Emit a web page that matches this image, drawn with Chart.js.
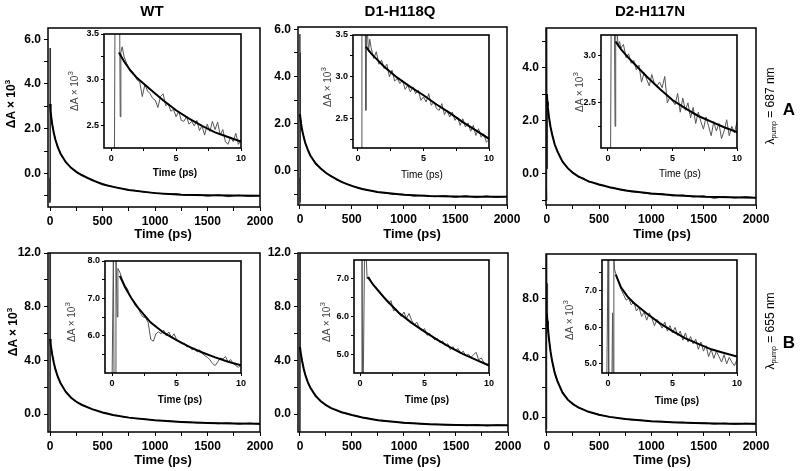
<!DOCTYPE html>
<html><head><meta charset="utf-8">
<script src="https://cdn.jsdelivr.net/npm/chart.js@4/dist/chart.umd.min.js"></script>
<style>
html,body{margin:0;padding:0;background:#fff;}
body{width:800px;height:471px;overflow:hidden;position:relative;font-family:"Liberation Sans",Arial,sans-serif;color:#000;}
canvas{position:absolute;left:0;top:0;}
.t{position:absolute;white-space:nowrap;transform:translate(-50%,-50%);line-height:1;}
.r{transform:translate(-50%,-50%) rotate(-90deg);}
.b{font-weight:bold;}
sub{font-size:7px;vertical-align:-2px;}
sup{font-size:8px;vertical-align:5px;}
</style></head>
<body>
<script>
// ---------------- DATA ----------------
const columnTitles = ['WT', 'D1-H118Q', 'D2-H117N'];

// main panels: time axis (ps)
const mainXTicks = [0, 500, 1000, 1500, 2000];
const mainXMinor = [250, 750, 1250, 1750];
const mainTime = [-4,-2,0,2,4,6,10,20,35,50,75,100,130,160,200,250,300,350,400,450,500,550,600,650,700,750,800,900,1000,1100,1200,1300,1400,1500,1600,1700,1800,1900,2000];
const mainSignal_WT_A = [-0.2,-1.3,5.6,-1.2,3.3,2.75,2.6,2.18,1.85,1.5,1.18,0.85,0.66,0.42,0.27,0.05,-0.05,-0.2,-0.26,-0.4,-0.45,-0.55,-0.58,-0.66,-0.68,-0.76,-0.75,-0.84,-0.86,-0.93,-0.9,-0.98,-0.94,-1.02,-0.95,-1.04,-0.97,-1.03,-0.99];
const mainSignal_D1_A = [-0.3,-1.4,5.8,-1.3,5.0,2.3,2.05,1.72,1.48,1.17,0.93,0.62,0.48,0.24,0.13,-0.1,-0.2,-0.38,-0.45,-0.57,-0.62,-0.72,-0.75,-0.83,-0.84,-0.92,-0.93,-1.0,-0.99,-1.08,-1.04,-1.1,-1.05,-1.13,-1.05,-1.14,-1.06,-1.13,-1.08];
const mainSignal_D2_A = [-0.5,-1.0,5.5,0.2,3.0,2.85,2.45,2.2,1.75,1.53,1.1,0.9,0.6,0.42,0.2,0.07,-0.12,-0.15,-0.3,-0.32,-0.42,-0.43,-0.52,-0.53,-0.6,-0.6,-0.67,-0.7,-0.76,-0.74,-0.83,-0.79,-0.87,-0.82,-0.92,-0.86,-0.91,-0.85,-0.9];
const mainSignal_WT_B = [-1.3,12.5,-1.3,12.5,5.7,5.2,4.9,4.5,3.8,3.38,2.7,2.33,1.9,1.6,1.2,0.95,0.68,0.55,0.35,0.27,0.1,0.06,-0.1,-0.12,-0.22,-0.24,-0.33,-0.36,-0.48,-0.47,-0.56,-0.57,-0.65,-0.62,-0.72,-0.64,-0.75,-0.66,-0.76];
const mainSignal_D1_B = [-1.3,12.5,-1.3,12.5,4.8,4.55,4.4,4.0,3.4,2.97,2.36,2.0,1.6,1.32,0.95,0.7,0.43,0.3,0.12,0.06,-0.09,-0.14,-0.27,-0.3,-0.4,-0.44,-0.52,-0.57,-0.67,-0.68,-0.76,-0.74,-0.81,-0.78,-0.86,-0.77,-0.88,-0.79,-0.86];
const mainSignal_D2_B = [-0.8,11.5,6.2,9.0,6.8,6.6,6.0,5.35,4.4,3.85,2.95,2.5,1.98,1.6,1.15,0.92,0.63,0.52,0.33,0.27,0.13,0.1,0.0,-0.02,-0.1,-0.1,-0.18,-0.2,-0.3,-0.28,-0.37,-0.34,-0.42,-0.38,-0.47,-0.4,-0.48,-0.41,-0.47];

const mainFitTime = [0,5,10,20,35,50,75,100,150,200,250,300,400,500,600,750,1000,1250,1500,1750,2000];
const mainFit_WT_A = [3.1,2.8,2.55,2.2,1.82,1.52,1.15,0.88,0.5,0.25,0.07,-0.07,-0.3,-0.48,-0.6,-0.74,-0.88,-0.95,-0.98,-0.99,-1.0];
const mainFit_D1_A = [2.4,2.2,2.02,1.75,1.45,1.2,0.9,0.65,0.32,0.1,-0.08,-0.23,-0.47,-0.64,-0.77,-0.9,-1.02,-1.07,-1.09,-1.1,-1.1];
const mainFit_D2_A = [3.0,2.72,2.5,2.15,1.78,1.5,1.12,0.86,0.46,0.22,0.04,-0.09,-0.28,-0.4,-0.5,-0.62,-0.74,-0.81,-0.86,-0.88,-0.9];
const mainFit_WT_B = [5.6,5.25,4.95,4.45,3.85,3.35,2.75,2.3,1.65,1.22,0.92,0.7,0.37,0.12,-0.07,-0.26,-0.46,-0.58,-0.66,-0.7,-0.72];
const mainFit_D1_B = [5.0,4.7,4.42,3.98,3.42,2.95,2.38,1.97,1.36,0.96,0.67,0.45,0.14,-0.07,-0.25,-0.45,-0.65,-0.75,-0.8,-0.82,-0.83];
const mainFit_D2_B = [7.0,6.5,6.05,5.3,4.45,3.8,3.0,2.45,1.65,1.18,0.88,0.66,0.36,0.16,0.02,-0.12,-0.28,-0.36,-0.41,-0.44,-0.45];

// main y ticks
const yTicks_A_WT = [0, 2, 4, 6],  yMinor_A_WT = [-1, 1, 3, 5];
const yTicks_A_D1 = [0, 2, 4, 6],  yMinor_A_D1 = [-1, 1, 3, 5];
const yTicks_A_D2 = [0, 2, 4],     yMinor_A_D2 = [-1, 1, 3, 5];
const yTicks_B_WT = [0, 4, 8, 12], yMinor_B_WT = [2, 6, 10];
const yTicks_B_D1 = [0, 4, 8, 12], yMinor_B_D1 = [2, 6, 10];
const yTicks_B_D2 = [0, 4, 8],     yMinor_B_D2 = [2, 6, 10];

// insets: time axis (ps)
const insetXTicks = [0, 5, 10];
const insetXMinor = [2.5, 7.5];
const insetTime = [1.0,1.2,1.4,1.6,1.8,2.0,2.2,2.4,2.6,2.8,3.0,3.2,3.4,3.6,3.8,4.0,4.2,4.4,4.6,4.8,5.0,5.2,5.4,5.6,5.8,6.0,6.2,6.4,6.6,6.8,7.0,7.2,7.4,7.6,7.8,8.0,8.2,8.4,8.6,8.8,9.0,9.2,9.4,9.6,9.8,10.0];
const insetSignal_WT_A = [3.25,3.18,3.12,3.10,3.05,3.00,2.98,2.82,2.95,2.88,2.85,2.80,2.78,2.70,2.82,2.85,2.72,2.74,2.66,2.68,2.60,2.66,2.56,2.55,2.60,2.52,2.55,2.50,2.56,2.45,2.50,2.40,2.52,2.44,2.55,2.46,2.54,2.40,2.46,2.33,2.30,2.38,2.33,2.42,2.30,2.35];
const insetSignal_D1_A = [3.35,3.22,3.30,3.15,3.20,3.10,3.15,3.00,3.08,2.95,2.98,2.92,2.96,2.85,2.90,2.82,2.88,2.80,2.84,2.72,2.76,2.70,2.80,2.66,2.70,2.62,2.60,2.68,2.55,2.60,2.52,2.58,2.48,2.52,2.42,2.50,2.40,2.45,2.35,2.42,2.30,2.38,2.28,2.32,2.22,2.25];
const insetSignal_D2_A = [3.08,3.12,2.98,3.02,2.92,2.95,2.85,2.90,2.72,2.82,2.75,2.68,2.80,2.70,2.68,2.72,2.66,2.78,2.50,2.56,2.52,2.48,2.60,2.40,2.55,2.42,2.50,2.34,2.45,2.28,2.40,2.30,2.22,2.35,2.25,2.15,2.30,2.20,2.28,2.12,2.20,2.32,2.15,2.25,2.18,2.30];
const insetSignal_WT_B = [7.35,7.25,7.05,6.95,6.80,6.78,6.60,6.50,6.48,6.35,5.90,5.85,6.05,6.10,6.05,6.15,6.00,6.10,5.95,6.05,5.90,5.85,5.78,5.80,5.70,5.72,5.62,5.66,5.56,5.62,5.52,5.46,5.42,5.35,5.25,5.20,5.30,5.40,5.38,5.44,5.30,5.36,5.25,5.20,5.15,5.22];
const insetSignal_D1_B = [6.85,6.78,6.68,6.60,6.52,6.48,6.35,6.42,6.15,6.20,6.08,6.00,6.12,5.95,6.08,5.90,5.78,5.85,5.70,5.62,5.68,5.50,5.55,5.45,5.38,5.42,5.30,5.35,5.22,5.28,5.12,5.20,5.10,5.15,5.02,5.08,4.95,5.00,4.92,4.98,5.05,4.85,4.90,4.78,4.72,4.75];
const insetSignal_D2_B = [7.05,6.90,6.75,6.80,6.62,6.70,6.45,6.55,6.30,6.42,6.20,6.40,6.25,6.05,6.22,6.10,5.98,6.15,5.90,6.05,5.85,6.00,5.78,5.90,5.65,5.85,5.60,5.75,5.55,5.68,5.40,5.60,5.35,5.50,5.20,5.40,5.15,5.35,5.20,5.05,5.25,5.00,5.18,5.05,4.95,5.12];

// early-time spikes (before the 1 ps grid)
const insetSpikeTime_WT_A = [0.0,0.25,0.3,0.65,0.7,0.75,0.85];
const insetSpikeSignal_WT_A = [2.0,2.0,3.8,3.8,2.6,3.3,3.36];
const insetSpikeTime_D1_A = [0.0,0.25,0.3,0.55,0.6,0.65,0.7,0.8,0.9];
const insetSpikeSignal_D1_A = [2.0,2.0,3.7,3.7,2.6,3.7,3.6,3.3,3.45];
const insetSpikeTime_D2_A = [0.0,0.2,0.25,0.5,0.55,0.6,0.8,0.9];
const insetSpikeSignal_D2_A = [1.9,1.9,3.4,3.4,2.25,3.4,3.1,3.15];
const insetSpikeTime_WT_B = [0.0,0.1,0.15,0.25,0.3,0.4,0.45,0.6,0.8];
const insetSpikeSignal_WT_B = [4.8,8.2,4.8,4.8,8.2,6.5,7.8,7.7,7.5];
const insetSpikeTime_D1_B = [0.0,0.1,0.15,0.2,0.25,0.35,0.45,0.55,0.7,0.85];
const insetSpikeSignal_D1_B = [4.3,4.3,7.8,4.3,4.3,7.8,7.8,7.0,7.05,6.95];
const insetSpikeTime_D2_B = [-0.1,0.0,0.05,0.3,0.35,0.4,0.45,0.5,0.7,0.85];
const insetSpikeSignal_D2_B = [4.5,8.0,4.5,4.6,6.4,4.6,8.0,7.6,7.35,7.2];

const insetFitTime = [0.6,1,1.5,2,3,4,5,6,7,8,9,10];
const insetFit_WT_A = [3.30,3.20,3.10,3.02,2.90,2.78,2.67,2.58,2.50,2.43,2.38,2.33];
const insetFit_D1_A = [3.36,3.28,3.20,3.12,2.99,2.88,2.78,2.67,2.57,2.46,2.36,2.26];
const insetFit_D2_A = [3.15,3.07,2.99,2.92,2.78,2.65,2.53,2.44,2.36,2.30,2.24,2.19];
const insetFit_WT_B = [7.60,7.30,7.00,6.75,6.35,6.08,5.88,5.70,5.55,5.42,5.30,5.21];
const insetFit_D1_B = [7.05,6.85,6.65,6.45,6.10,5.83,5.60,5.38,5.18,5.00,4.85,4.70];
const insetFit_D2_B = [7.45,7.10,6.85,6.67,6.38,6.12,5.90,5.70,5.55,5.40,5.30,5.20];

// inset y ticks
const insetYTicks_WT_A = [2.5, 3.0, 3.5], insetYMinor_WT_A = [2.75, 3.25];
const insetYTicks_D1_A = [2.5, 3.0, 3.5], insetYMinor_D1_A = [2.25, 2.75, 3.25];
const insetYTicks_D2_A = [2.5, 3.0],      insetYMinor_D2_A = [2.25, 2.75];
const insetYTicks_WT_B = [6, 7, 8],       insetYMinor_WT_B = [5.5, 6.5, 7.5];
const insetYTicks_D1_B = [5, 6, 7],       insetYMinor_D1_B = [5.5, 6.5];
const insetYTicks_D2_B = [5, 6, 7],       insetYMinor_D2_B = [5.5, 6.5, 7.5];

// ---------------- DRAWING ----------------
const W = 800, H = 471;
const FONT = '"Liberation Sans", Arial, sans-serif';
const pts = (xs, ys) => xs.map((x, i) => ({x: x, y: ys[i]}));

const framePlugin = {
  id: 'frame',
  afterDatasetsDraw(chart, args, opts) {
    const a = chart.chartArea, ctx = chart.ctx;
    ctx.save();
    ctx.strokeStyle = '#000';
    ctx.lineWidth = opts.w || 1.5;
    ctx.strokeRect(a.left, a.top, a.right - a.left, a.bottom - a.top);
    ctx.restore();
  }
};

function makeChart(rect, xr, yr, xMaj, xMin, yMaj, yMin, yDigits, datasets, sty) {
  const cv = document.createElement('canvas');
  cv.width = W; cv.height = H;
  cv.style.width = W + 'px'; cv.style.height = H + 'px';
  document.body.appendChild(cv);
  const xAll = xMaj.concat(xMin).sort((a, b) => a - b);
  const yAll = yMaj.concat(yMin).sort((a, b) => a - b);
  const tickFont = {family: FONT, size: sty.fs, weight: 'bold'};
  const grid = {drawOnChartArea: false, drawTicks: true, tickLength: sty.tl, color: '#000', lineWidth: 1};
  new Chart(cv, {
    type: 'line',
    data: {datasets: datasets},
    options: {
      responsive: false, animation: false, events: [],
      layout: {padding: {left: rect.l - sty.yw, top: rect.t, right: W - rect.r, bottom: H - rect.b - sty.xh}},
      plugins: {legend: {display: false}, tooltip: {enabled: false}, frame: {w: sty.fw}},
      scales: {
        x: {
          type: 'linear', min: xr[0], max: xr[1],
          afterFit: s => { s.height = sty.xh; },
          afterBuildTicks: s => { s.ticks = xAll.map(v => ({value: v})); },
          ticks: {autoSkip: false, maxRotation: 0, minRotation: 0, padding: sty.pad, color: '#000', font: tickFont,
                  callback: v => xMaj.includes(v) ? String(v) : ''},
          grid: grid, border: {display: false}
        },
        y: {
          type: 'linear', min: yr[0], max: yr[1],
          afterFit: s => { s.width = sty.yw; },
          afterBuildTicks: s => { s.ticks = yAll.map(v => ({value: v})); },
          ticks: {autoSkip: false, padding: sty.pad, color: '#000', font: tickFont,
                  callback: v => yMaj.includes(v) ? Number(v).toFixed(yDigits) : ''},
          grid: grid, border: {display: false}
        }
      }
    },
    plugins: [framePlugin]
  });
}

const mainSty = {yw: 45, xh: 26, tl: 4, pad: 3, fs: 12, fw: 1.5};
const insetSty = {yw: 24, xh: 15, tl: 3, pad: 2, fs: 9, fw: 1.6};

function mainSets(sig, fit) {
  return [
    {data: pts(mainFitTime, fit), borderColor: '#000', borderWidth: 2, pointRadius: 0, tension: 0, order: 0},
    {data: pts(mainTime, sig), borderColor: '#333', borderWidth: 1, pointRadius: 0, tension: 0, order: 1}
  ];
}
function insetSets(st, ss, sig, fit) {
  return [
    {data: pts(insetFitTime, fit), borderColor: '#000', borderWidth: 2, pointRadius: 0, tension: 0, order: 0},
    {data: pts(st.concat(insetTime), ss.concat(sig)), borderColor: '#555', borderWidth: 1, pointRadius: 0, tension: 0, order: 1}
  ];
}

// Row A (λpump = 687 nm)
makeChart({l: 48, t: 28, r: 260, b: 207}, [-20, 2000], [-1.5, 6.5], mainXTicks, mainXMinor, yTicks_A_WT, yMinor_A_WT, 1, mainSets(mainSignal_WT_A, mainFit_WT_A), mainSty);
makeChart({l: 298, t: 27, r: 507, b: 205}, [-19, 2000], [-1.45, 6.1], mainXTicks, mainXMinor, yTicks_A_D1, yMinor_A_D1, 1, mainSets(mainSignal_D1_A, mainFit_D1_A), mainSty);
makeChart({l: 546, t: 28, r: 756, b: 205}, [-8, 2000], [-1.17, 5.5], mainXTicks, mainXMinor, yTicks_A_D2, yMinor_A_D2, 1, mainSets(mainSignal_D2_A, mainFit_D2_A), mainSty);
// Row B (λpump = 655 nm)
makeChart({l: 48, t: 253, r: 260, b: 432}, [-20, 2000], [-1.33, 12], mainXTicks, mainXMinor, yTicks_B_WT, yMinor_B_WT, 1, mainSets(mainSignal_WT_B, mainFit_WT_B), mainSty);
makeChart({l: 298, t: 253, r: 508, b: 432}, [-19, 2000], [-1.33, 12], mainXTicks, mainXMinor, yTicks_B_D1, yMinor_B_D1, 1, mainSets(mainSignal_D1_B, mainFit_D1_B), mainSty);
makeChart({l: 546, t: 254, r: 756, b: 432}, [-8, 2000], [-1.0, 11], mainXTicks, mainXMinor, yTicks_B_D2, yMinor_B_D2, 1, mainSets(mainSignal_D2_B, mainFit_D2_B), mainSty);

// Insets
makeChart({l: 104, t: 34, r: 241, b: 148}, [-0.55, 10], [2.26, 3.5], insetXTicks, insetXMinor, insetYTicks_WT_A, insetYMinor_WT_A, 1, insetSets(insetSpikeTime_WT_A, insetSpikeSignal_WT_A, insetSignal_WT_A, insetFit_WT_A), insetSty);
makeChart({l: 353, t: 35, r: 489, b: 148}, [-0.38, 10], [2.15, 3.5], insetXTicks, insetXMinor, insetYTicks_D1_A, insetYMinor_D1_A, 1, insetSets(insetSpikeTime_D1_A, insetSpikeSignal_D1_A, insetSignal_D1_A, insetFit_D1_A), insetSty);
makeChart({l: 601, t: 35, r: 737, b: 148}, [-0.54, 10], [2.02, 3.22], insetXTicks, insetXMinor, insetYTicks_D2_A, insetYMinor_D2_A, 1, insetSets(insetSpikeTime_D2_A, insetSpikeSignal_D2_A, insetSignal_D2_A, insetFit_D2_A), insetSty);
makeChart({l: 105, t: 261, r: 241, b: 373}, [-0.55, 10], [5.0, 8.0], insetXTicks, insetXMinor, insetYTicks_WT_B, insetYMinor_WT_B, 1, insetSets(insetSpikeTime_WT_B, insetSpikeSignal_WT_B, insetSignal_WT_B, insetFit_WT_B), insetSty);
makeChart({l: 354, t: 260, r: 489, b: 373}, [-0.47, 10], [4.5, 7.5], insetXTicks, insetXMinor, insetYTicks_D1_B, insetYMinor_D1_B, 1, insetSets(insetSpikeTime_D1_B, insetSpikeSignal_D1_B, insetSignal_D1_B, insetFit_D1_B), insetSty);
makeChart({l: 602, t: 260, r: 737, b: 373}, [-0.47, 10], [4.75, 7.85], insetXTicks, insetXMinor, insetYTicks_D2_B, insetYMinor_D2_B, 1, insetSets(insetSpikeTime_D2_B, insetSpikeSignal_D2_B, insetSignal_D2_B, insetFit_D2_B), insetSty);

// ---------------- TEXT ----------------
function label(html, x, y, cls, style) {
  const d = document.createElement('div');
  d.className = 't ' + (cls || '');
  d.innerHTML = html;
  d.style.left = x + 'px'; d.style.top = y + 'px';
  if (style) d.style.cssText += style;
  document.body.appendChild(d);
}
const colX = [152, 400, 650];
columnTitles.forEach((s, i) => label(s, colX[i], 10, 'b', 'font-size:15px;'));
// main axis titles
[163, 412, 662].forEach(x => { label('Time (ps)', x, 233, 'b', 'font-size:13px;'); label('Time (ps)', x, 459, 'b', 'font-size:13px;'); });
label('ΔA × 10<sup>3</sup>', 10, 104, 'b r', 'font-size:12px;');
label('ΔA × 10<sup>3</sup>', 12, 332, 'b r', 'font-size:12px;');
// inset axis titles
label('Time (ps)', 175, 173, 'b', 'font-size:10px;');
label('Time (ps)', 422, 175, '', 'font-size:10px;');
label('Time (ps)', 680, 174, '', 'font-size:10px;');
label('Time (ps)', 180, 400, 'b', 'font-size:10px;');
label('Time (ps)', 427, 400, 'b', 'font-size:10px;');
label('Time (ps)', 677, 401, 'b', 'font-size:10px;');
[[73, 91], [326, 87], [578, 92], [70, 322], [325, 322], [568, 320]].forEach(p =>
  label('ΔA × 10<sup>3</sup>', p[0], p[1], 'r', 'font-size:10px;color:#444;'));
// side labels
label('λ<sub>pump</sub> = 687 nm', 770, 106, 'r', 'font-size:12px;');
label('A', 789, 109, 'b', 'font-size:17px;');
label('λ<sub>pump</sub> = 655 nm', 770, 331, 'r', 'font-size:12px;');
label('B', 789, 342, 'b', 'font-size:17px;');
</script>
</body></html>
